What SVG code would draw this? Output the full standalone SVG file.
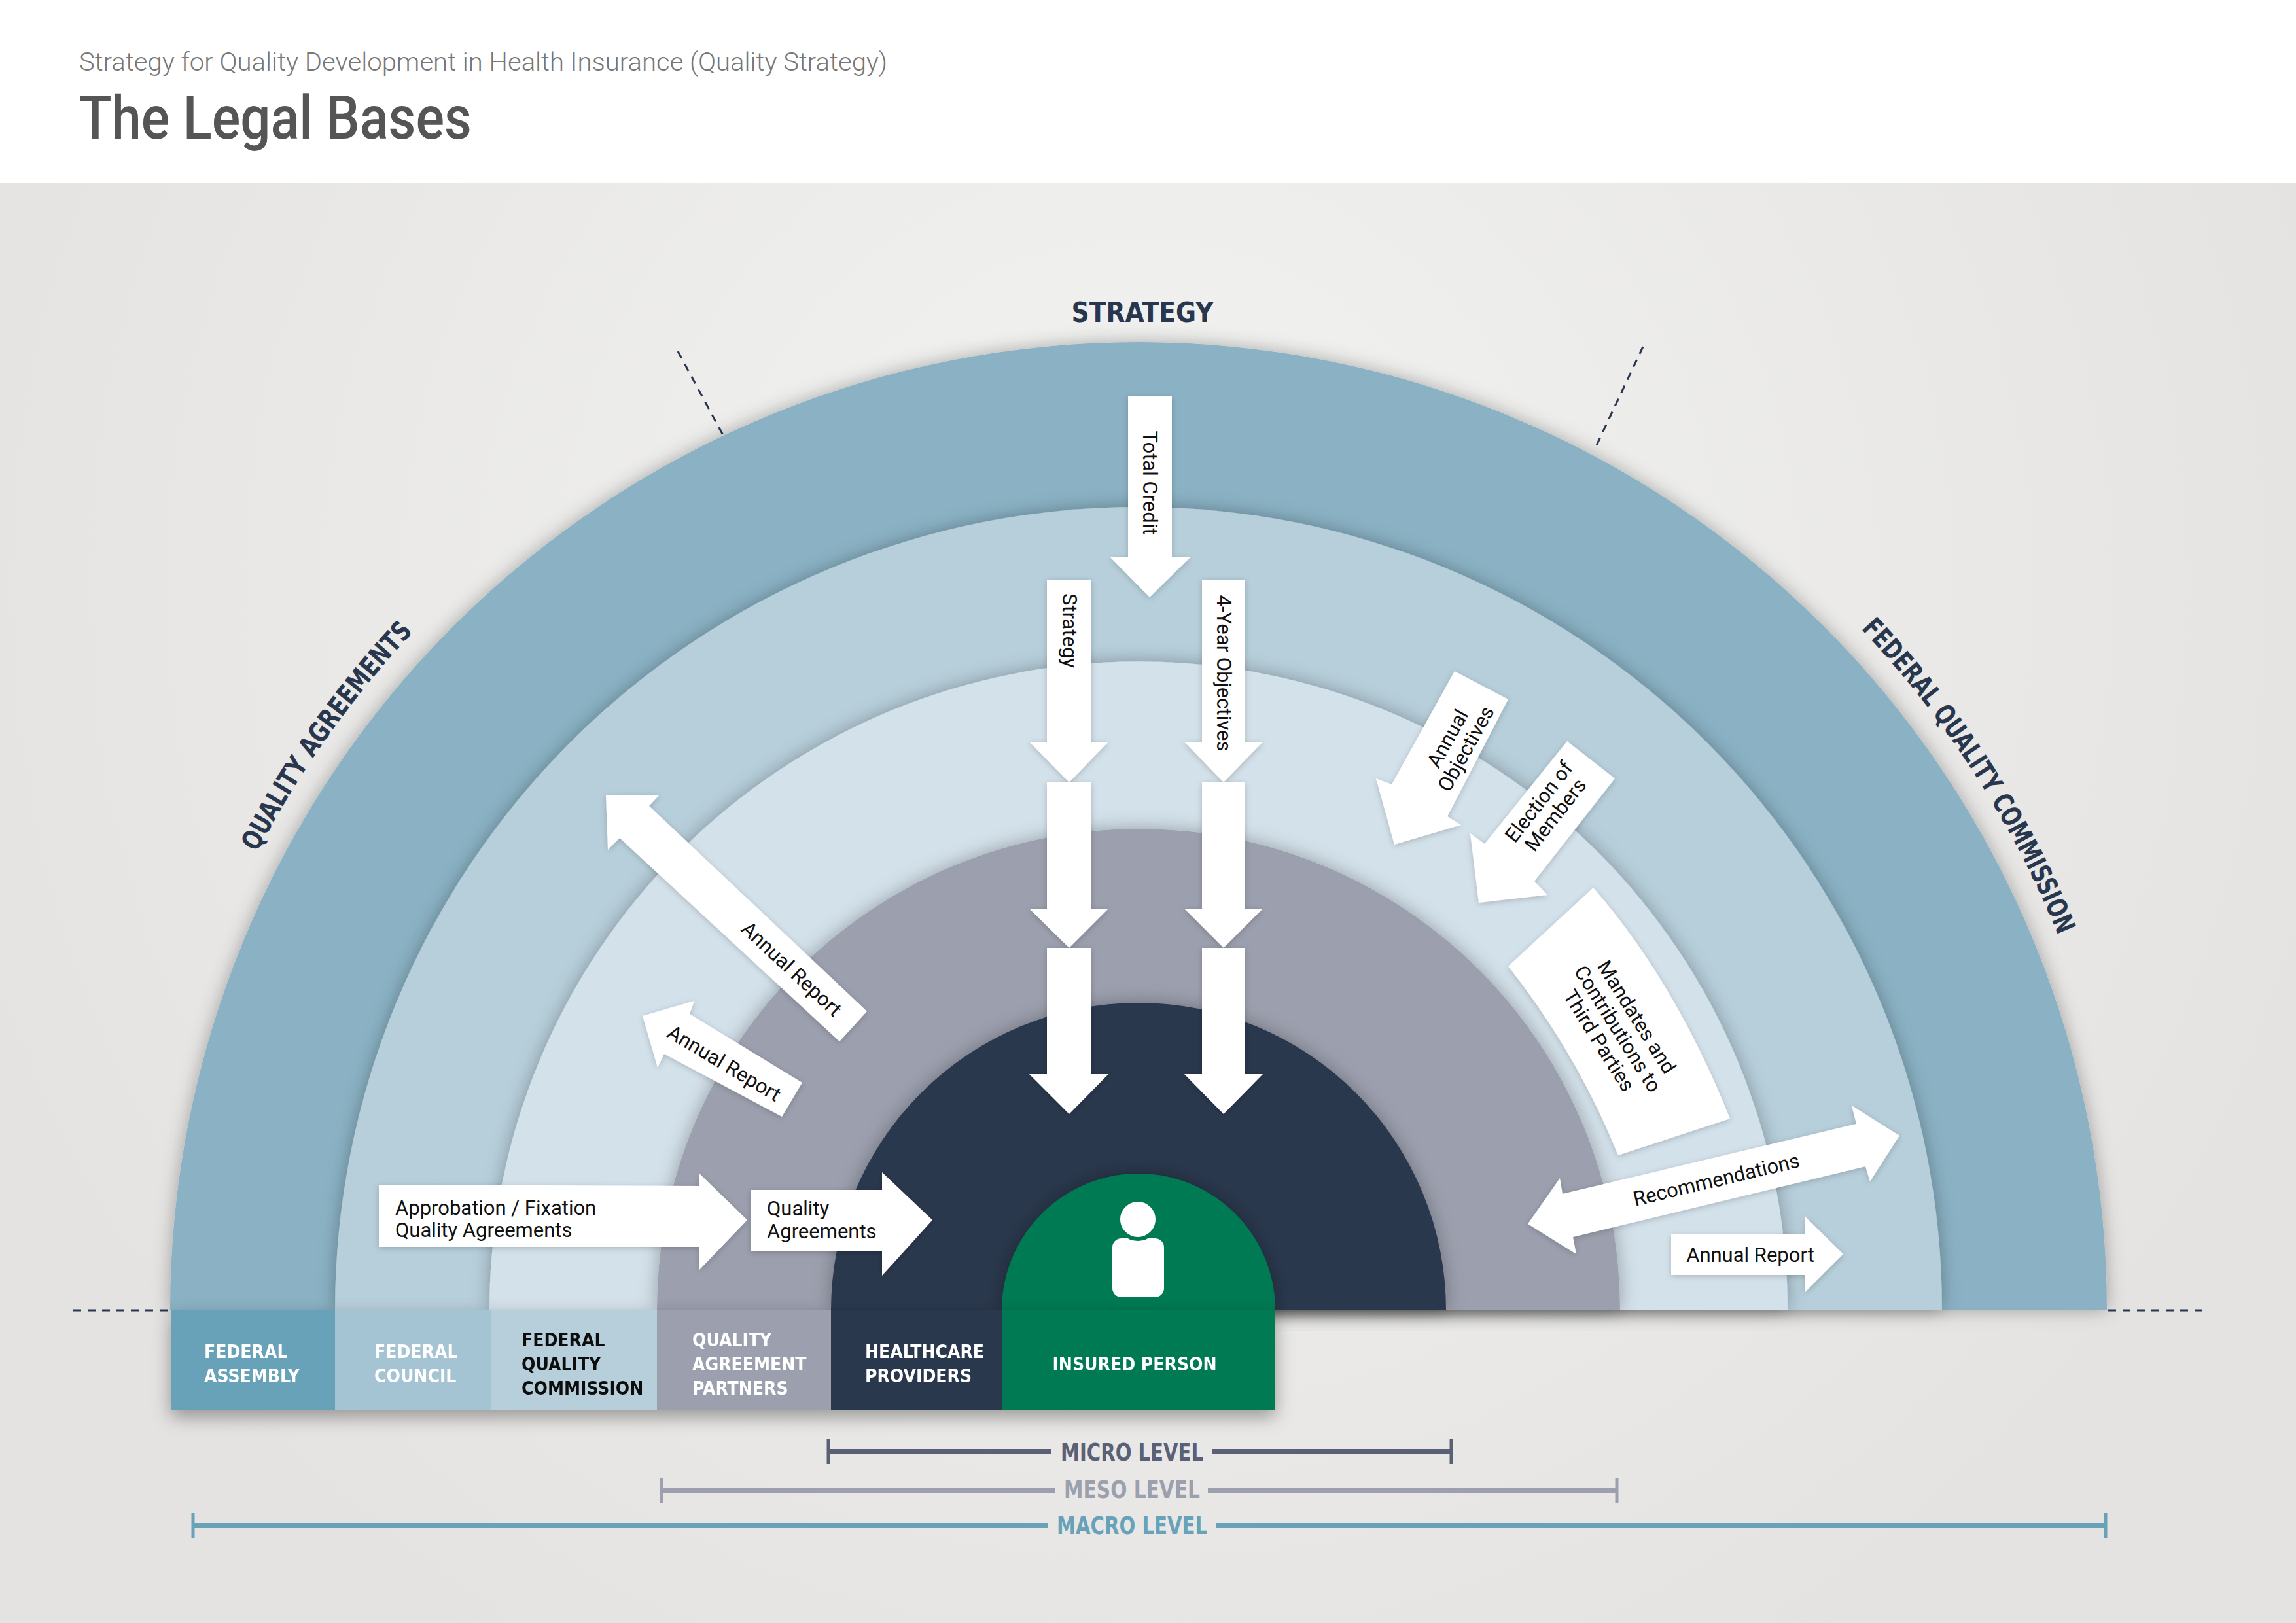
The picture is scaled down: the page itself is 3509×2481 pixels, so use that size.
<svg xmlns="http://www.w3.org/2000/svg" width="3509" height="2481" viewBox="0 0 3509 2481">
<defs>
<radialGradient id="bg" cx="1740" cy="900" r="1900" gradientUnits="userSpaceOnUse">
<stop offset="0" stop-color="#f3f3f2"/><stop offset="1" stop-color="#e4e3e1"/>
</radialGradient>
<filter id="sh" x="-10%" y="-10%" width="120%" height="120%"><feDropShadow dx="0" dy="0" stdDeviation="14" flood-color="#000" flood-opacity="0.3"/></filter>
<filter id="sh2" x="-10%" y="-30%" width="120%" height="160%"><feDropShadow dx="0" dy="10" stdDeviation="14" flood-color="#000" flood-opacity="0.35"/></filter>
<filter id="ash" x="-20%" y="-20%" width="140%" height="140%"><feDropShadow dx="0" dy="2" stdDeviation="5" flood-color="#000" flood-opacity="0.2"/></filter>
<path id="arcL" d="M 222,2003 A 1518 1518 0 0 1 3258,2003"/>
<style>
.lbl{font-family:Roboto,"Liberation Sans",sans-serif;font-size:31px;fill:#111}
.leg{font-family:"DejaVu Sans Condensed","DejaVu Sans",sans-serif;font-weight:bold;font-size:28px;fill:#fff}
.lvl{font-family:"DejaVu Sans Condensed","DejaVu Sans",sans-serif;font-weight:bold;font-size:38px;text-anchor:middle}
.arc{font-family:"DejaVu Sans Condensed","DejaVu Sans",sans-serif;font-weight:bold;font-size:42px;fill:#29374e}
.arw{fill:#fff;filter:url(#ash)}
.dash{stroke:#29374e;stroke-width:3;stroke-dasharray:12 10;fill:none}
</style>
</defs>
<rect x="0" y="0" width="3509" height="2481" fill="url(#bg)"/>
<rect x="0" y="0" width="3509" height="280" fill="#fff"/>
<g id="header">
<text x="121" y="108" font-family="Roboto,'Liberation Sans',sans-serif" font-weight="300" font-size="39" fill="#777" textLength="1235" lengthAdjust="spacingAndGlyphs">Strategy for Quality Development in Health Insurance (Quality Strategy)</text>
<text x="121" y="212" font-family="Roboto,'Liberation Sans',sans-serif" font-weight="500" font-size="92" fill="#555" textLength="600" lengthAdjust="spacingAndGlyphs">The Legal Bases</text>
</g>
<g id="rings">
<path d="M260,2003 A1480 1480 0 0 1 3220,2003 Z" fill="#8ab2c4" filter="url(#sh)"/>
<path d="M512,2003 A1228 1228 0 0 1 2968,2003 Z" fill="#b7cfdb" filter="url(#sh)"/>
<path d="M748,2003 A992 992 0 0 1 2732,2003 Z" fill="#d3e1ea" filter="url(#sh)"/>
<path d="M1004,2003 A736 736 0 0 1 2476,2003 Z" fill="#9ca0ae" filter="url(#sh)"/>
<path d="M1270,2003 A470 470 0 0 1 2210,2003 Z" fill="#29374e" filter="url(#sh)"/>
<path d="M1531,2003 A209 209 0 0 1 1949,2003 Z" fill="#007a53" filter="url(#sh)"/>
</g>
<g id="dashes">
<line class="dash" x1="112" y1="2003" x2="260" y2="2003"/>
<line class="dash" x1="3222" y1="2003" x2="3368" y2="2003"/>
<line class="dash" x1="1036" y1="537" x2="1106" y2="667"/>
<line class="dash" x1="2511" y1="530" x2="2437" y2="687"/>
</g>
<g id="ring-labels">
<text class="arc" x="1746" y="492" text-anchor="middle">STRATEGY</text>
<text class="arc" text-anchor="middle"><textPath href="#arcL" startOffset="19.6%" textLength="414" lengthAdjust="spacingAndGlyphs">QUALITY AGREEMENTS</textPath></text>
<text class="arc" text-anchor="middle"><textPath href="#arcL" startOffset="81.8%" textLength="560" lengthAdjust="spacingAndGlyphs">FEDERAL QUALITY COMMISSION</textPath></text>
</g>
<g id="connectors">
<polygon class="arw" points="1724,606 1791,606 1791,852 1819,852 1757,913 1697,852 1724,852"/>
<polygon class="arw" points="1600,886 1668,886 1668,1134 1694,1134 1634,1196 1573,1134 1600,1134"/>
<polygon class="arw" points="1600,1196 1668,1196 1668,1389 1694,1389 1634,1449 1573,1389 1600,1389"/>
<polygon class="arw" points="1600,1449 1668,1449 1668,1642 1694,1642 1634,1703 1573,1642 1600,1642"/>
<polygon class="arw" points="1837,886 1903,886 1903,1134 1930,1134 1870,1196 1810,1134 1837,1134"/>
<polygon class="arw" points="1837,1196 1903,1196 1903,1389 1930,1389 1870,1449 1810,1389 1837,1389"/>
<polygon class="arw" points="1837,1449 1903,1449 1903,1642 1930,1642 1870,1703 1810,1642 1837,1642"/>
<polygon class="arw" points="2223,1026 2305,1069 2212,1248 2233,1261 2131,1291 2103,1190 2127,1199"/>
<polygon class="arw" points="2395,1133 2468,1190 2345,1347 2365,1368 2260,1380 2247,1274 2269,1290"/>
<path class="arw" d="M2305,1477 L2435,1357 Q2560,1500 2644,1710 L2473,1766 Q2410,1610 2305,1477 Z"/>
<polygon class="arw" points="2335,1871 2384,1801 2388,1825 2837,1718 2830,1690 2903,1736 2858,1806 2851,1783 2404,1891 2409,1917"/>
<polygon class="arw" points="2554,1887 2759,1887 2759,1860 2817,1917 2759,1975 2759,1949 2554,1949"/>
<polygon class="arw" points="926,1216 1008,1215 992,1232 1325,1546 1283,1592 947,1281 929,1299"/>
<polygon class="arw" points="982,1553 1061,1530 1054,1550 1226,1655 1195,1707 1015,1611 1005,1632"/>
<polygon class="arw" points="579,1811 1069,1813 1069,1794 1142,1865 1069,1941 1069,1906 579,1906"/>
<polygon class="arw" points="1147,1819 1348,1819 1348,1792 1425,1865 1348,1950 1348,1913 1147,1913"/>
</g>
<g id="labels">
<text class="lbl" transform="translate(1747,738) rotate(90)" text-anchor="middle">Total Credit</text>
<text class="lbl" transform="translate(1624,964) rotate(90)" text-anchor="middle">Strategy</text>
<text class="lbl" transform="translate(1860,1029) rotate(90)" text-anchor="middle">4-Year Objectives</text>
<text class="lbl" transform="translate(2227,1137) rotate(-61)" text-anchor="middle"><tspan x="0" y="-6">Annual</tspan><tspan x="0" y="26">Objectives</tspan></text>
<text class="lbl" transform="translate(2365,1236) rotate(-52)" text-anchor="middle"><tspan x="0" y="-6">Election of</tspan><tspan x="0" y="26">Members</tspan></text>
<text class="lbl" transform="translate(2472,1573) rotate(58)" text-anchor="middle"><tspan x="0" y="-24">Mandates and</tspan><tspan x="0" y="10">Contributions to</tspan><tspan x="0" y="44">Third Parties</tspan></text>
<text class="lbl" transform="translate(2623,1803) rotate(-13.4)" text-anchor="middle" dy="11">Recommendations</text>
<text class="lbl" x="2675" y="1929" text-anchor="middle">Annual Report</text>
<text class="lbl" transform="translate(1210,1481) rotate(43)" text-anchor="middle" dy="11">Annual Report</text>
<text class="lbl" transform="translate(1107,1625) rotate(31)" text-anchor="middle" dy="11">Annual Report</text>
<text class="lbl"><tspan x="604" y="1857">Approbation / Fixation</tspan><tspan x="604" y="1891">Quality Agreements</tspan></text>
<text class="lbl"><tspan x="1172" y="1858">Quality</tspan><tspan x="1172" y="1893">Agreements</tspan></text>
</g>
<g id="person" fill="#fff">
<rect x="1700" y="1893" width="79" height="90" rx="14"/>
<circle cx="1739" cy="1864" r="30" stroke="#007a53" stroke-width="6"/>
</g>
<g id="legend" filter="url(#sh2)">
<g id="n-assembly"><rect x="261" y="2003" width="252" height="153" fill="#67a2b8"/><text class="leg"><tspan x="312" y="2076">FEDERAL</tspan><tspan x="312" y="2113">ASSEMBLY</tspan></text></g>
<g id="n-council"><rect x="512" y="2003" width="239" height="153" fill="#a4c3d3"/><text class="leg"><tspan x="572" y="2076">FEDERAL</tspan><tspan x="572" y="2113">COUNCIL</tspan></text></g>
<g id="n-fqc"><rect x="750" y="2003" width="255" height="153" fill="#b7cfdb"/><text class="leg" style="fill:#111"><tspan x="797" y="2058">FEDERAL</tspan><tspan x="797" y="2095">QUALITY</tspan><tspan x="797" y="2132">COMMISSION</tspan></text></g>
<g id="n-qap"><rect x="1004" y="2003" width="267" height="153" fill="#9ca0ae"/><text class="leg"><tspan x="1058" y="2058">QUALITY</tspan><tspan x="1058" y="2095">AGREEMENT</tspan><tspan x="1058" y="2132">PARTNERS</tspan></text></g>
<g id="n-hp"><rect x="1270" y="2003" width="262" height="153" fill="#29374e"/><text class="leg"><tspan x="1322" y="2076">HEALTHCARE</tspan><tspan x="1322" y="2113">PROVIDERS</tspan></text></g>
<g id="n-insured"><rect x="1531" y="2003" width="418" height="153" fill="#007a53"/><text class="leg" x="1734" y="2095" text-anchor="middle">INSURED PERSON</text></g>
</g>
<g id="levels">
<g stroke="#5a6075" stroke-width="8"><line x1="1266" y1="2219" x2="1606" y2="2219"/><line x1="1852" y1="2219" x2="2218" y2="2219"/><line x1="1266" y1="2200" x2="1266" y2="2238" stroke-width="5"/><line x1="2218" y1="2200" x2="2218" y2="2238" stroke-width="5"/></g>
<text class="lvl" x="1730" y="2233" fill="#5a6075" textLength="218" lengthAdjust="spacingAndGlyphs">MICRO LEVEL</text>
<g stroke="#9ca0ae" stroke-width="8"><line x1="1011" y1="2278" x2="1612" y2="2278"/><line x1="1846" y1="2278" x2="2471" y2="2278"/><line x1="1011" y1="2259" x2="1011" y2="2297" stroke-width="5"/><line x1="2471" y1="2259" x2="2471" y2="2297" stroke-width="5"/></g>
<text class="lvl" x="1730" y="2290" fill="#9ca0ae" textLength="208" lengthAdjust="spacingAndGlyphs">MESO LEVEL</text>
<g stroke="#67a2b8" stroke-width="8"><line x1="295" y1="2332" x2="1602" y2="2332"/><line x1="1858" y1="2332" x2="3218" y2="2332"/><line x1="295" y1="2313" x2="295" y2="2351" stroke-width="5"/><line x1="3218" y1="2313" x2="3218" y2="2351" stroke-width="5"/></g>
<text class="lvl" x="1730" y="2345" fill="#67a2b8" textLength="230" lengthAdjust="spacingAndGlyphs">MACRO LEVEL</text>
</g>
</svg>
